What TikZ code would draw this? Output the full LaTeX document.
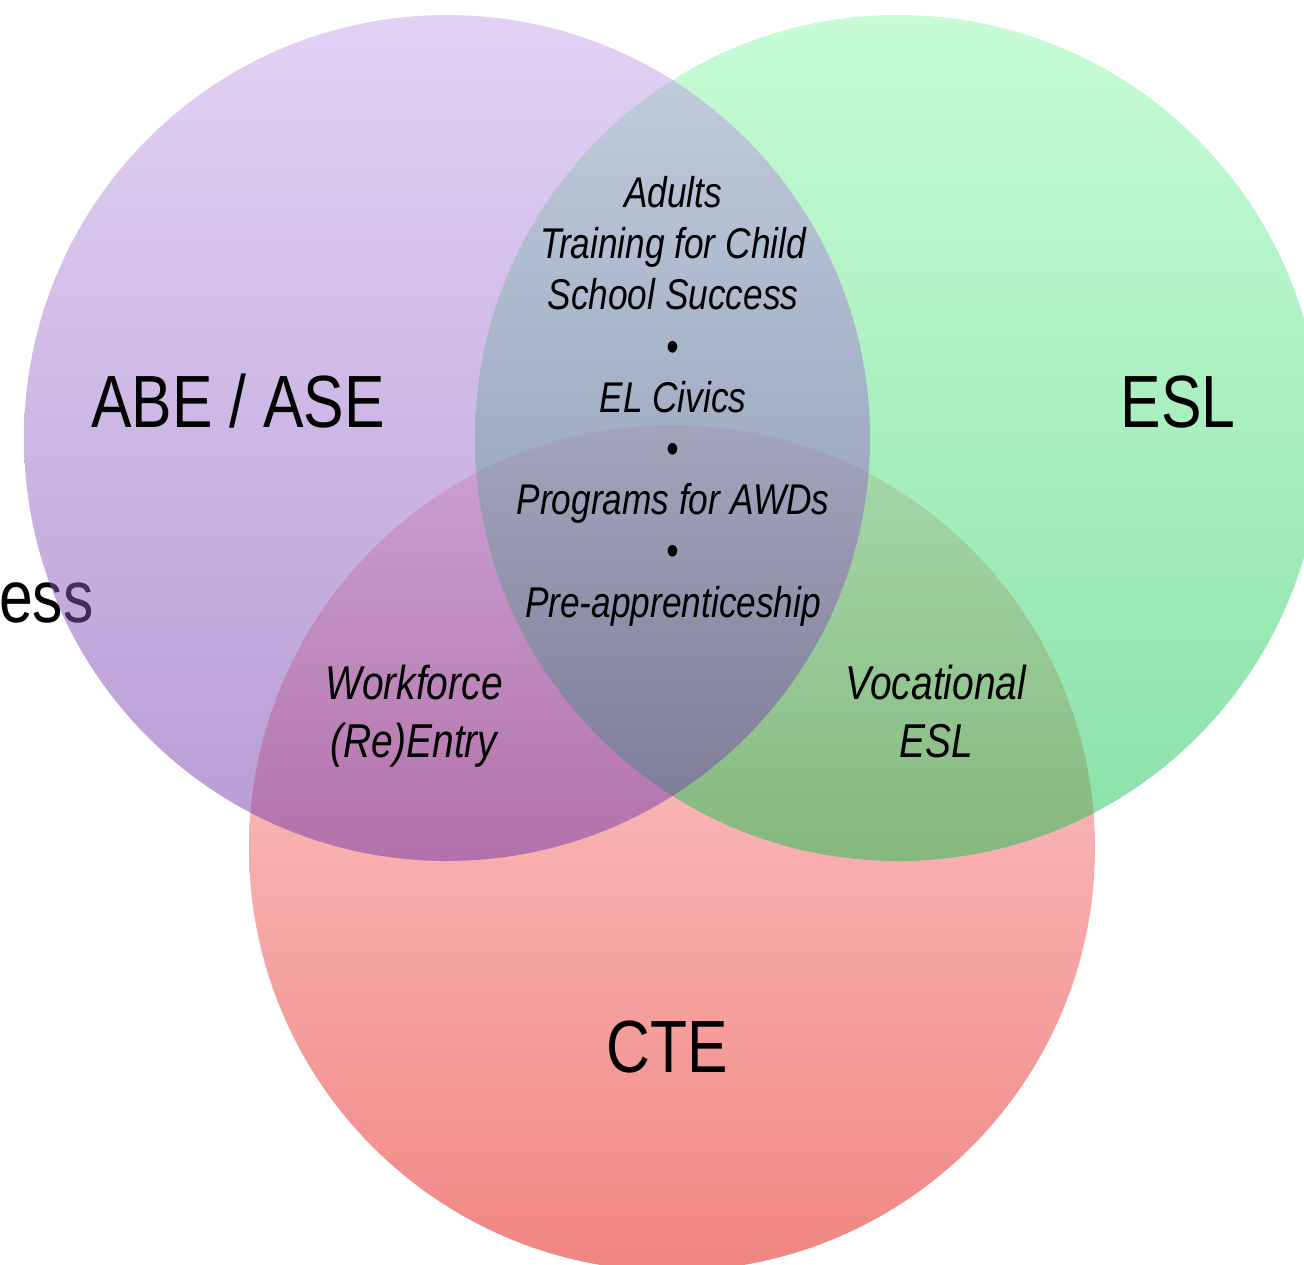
\documentclass[tikz,border=0pt]{standalone}
\usepackage{fontspec}
\setmainfont{Liberation Sans}[FakeStretch=0.82]
\definecolor{abe top}{RGB}{197,165,233}
\definecolor{abe bottom}{RGB}{112,55,170}
\definecolor{esl top}{RGB}{143,249,173}
\definecolor{esl bottom}{RGB}{20,195,80}
\definecolor{cte top}{RGB}{253,177,183}
\definecolor{cte bottom}{RGB}{227,13,5}

\begin{document}
\begin{tikzpicture}[x=1pt,y=-1pt,
			set circle/.style={fill opacity=0.5},
			big label/.style={font=\fontsize{74}{89}\selectfont,anchor=base,inner sep=0pt},
			pair label/.style={font=\itshape\fontsize{47.5}{58}\selectfont,align=center,anchor=base,inner sep=0pt},
			core label/.style={font=\itshape\fontsize{43}{51.2}\selectfont,align=center,anchor=base,inner sep=0pt}];
			
			\useasboundingbox (0,0) rectangle (1304,1264);
			
			\node[big label,anchor=base west] (ess) at (-1,622) {ess};
			
			\shade[set circle,top color=cte top,bottom color=cte bottom] (672,848) circle (423pt);
			\shade[set circle,top color=esl top,bottom color=esl bottom] (898,438) circle (423pt);
			\shade[set circle,top color=abe top,bottom color=abe bottom] (447,438) circle (423pt);
			
			\node[big label] (abe) at (238,427) {ABE / ASE};
			\node[big label] (esl) at (1178,427) {ESL};
			\node[big label] (cte) at (667,1072) {CTE};
			
			\node[core label] (core) at (673,617) {Adults\\Training for Child\\School Success\\\textbullet\\EL Civics\\\textbullet\\Programs for AWDs\\\textbullet\\Pre-apprenticeship};
			\node[pair label] (work) at (414,757) {Workforce\\(Re)Entry};
			\node[pair label] (voc) at (936,757) {Vocational\\ESL};
			
\end{tikzpicture}
\end{document}
